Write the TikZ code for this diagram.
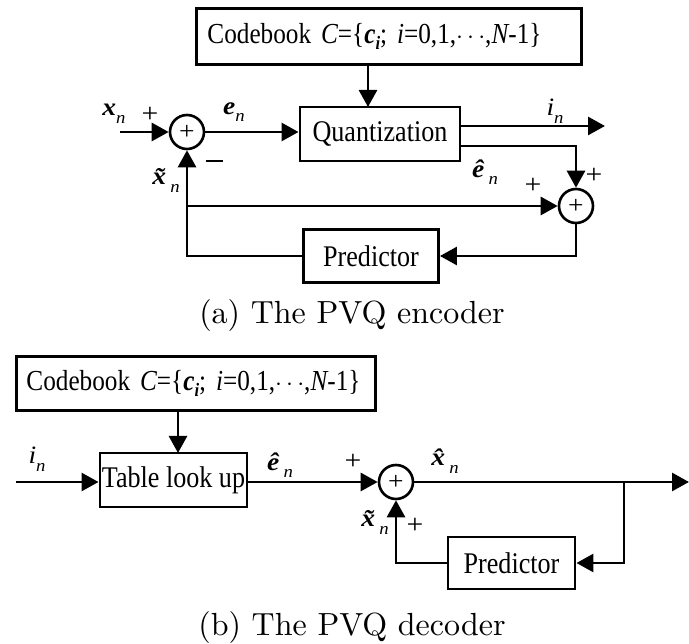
\documentclass[tikz,border=0pt]{standalone}
\usepackage{fontspec}
\newfontfamily\tnr{Liberation Serif}[FakeStretch=0.87]
\newfontfamily\lbf{Liberation Serif}[FakeStretch=1.1]
\newfontfamily\capfont{lmroman10-regular.otf}
\usetikzlibrary{arrows.meta}
% font size helper and label macros
\newcommand\fsz[1]{\fontsize{#1}{#1}\selectfont}
\newcommand\bv[1]{{\bfseries\itshape #1}}
\newcommand\lsubn[1]{\raisebox{-0.3em}{\fsz{17}\itshape #1}}
\newcommand\codebook{\fsz{29}Codebook {\itshape C}=\{\bv{c}\raisebox{-0.2em}{\fsz{19}\bfseries\itshape i}; {\itshape i}=0,1,$\cdots$,{\itshape N}-1\}}
\begin{document}
\begin{tikzpicture}[x=1pt,y=-1pt,
  blk/.style={draw,line width=2.9pt,inner sep=0pt,font=\tnr\fsz{30}},
  sumnode/.style={circle,draw,line width=2.6pt,minimum size=34pt,inner sep=0pt,font=\lbf\fsz{25}},
  wire/.style={line width=2.8pt},
  arr/.style={wire,-{Triangle[length=17pt,width=18pt]}},
  lbl/.style={font=\lbf\fsz{25},inner sep=0pt},
  sgn/.style={font=\lbf\fsz{27},inner sep=0pt},
  captext/.style={font=\capfont\fsz{32},inner sep=0pt}]
\useasboundingbox (0,0) rectangle (689,644);

% ---------------- encoder ----------------
\node[blk,anchor=north west,minimum width=385pt,minimum height=56pt,
      text width=363pt,inner xsep=11pt,align=left] (cb1) at (195,7) {\codebook};
\node[blk,minimum width=160pt,minimum height=54pt] (q) at (380,134) {Quantization};
\node[sumnode] (s1) at (187,132) {+};
\node[sumnode] (s2) at (576,206) {+};
\node[blk,minimum width=135pt,minimum height=53pt] (p1) at (371,256) {Predictor};

\coordinate (xin) at (120,132);
\coordinate (qin) at (368,107);
\coordinate (iout) at (605,126);
\coordinate (qe) at (460,146);

\draw[arr] (xin) -- (s1);
\draw[arr] (s1.east) -- (s1.east -| q.west);
\draw[arr] (cb1.south -| qin) -- (qin);
\draw[arr] (q.east |- iout) -- (iout);
\draw[arr] (qe) -| (s2.north);
\draw[arr] (p1.west) -- (p1.west -| s1.south) -- (s1.south);
\draw[arr] (s1.south |- s2.west) -- (s2.west);
\draw[arr] (s2.south) |- (p1.east);

\node[lbl] (lx1) at (114,114) {\bv{x}\lsubn{n}};
\node[sgn] (pl1) at (150,115) {+};
\node[lbl] (le1) at (234,112) {\bv{e}\lsubn{n}};
\node[sgn] (mi1) at (214,165) {\rule[0.3em]{17pt}{1.4pt}};
\node[lbl] (lxt1) at (166,180) {\bv{\~{x}}\,\lsubn{n}};
\node[lbl] (li1) at (555,111) {\itshape i\lsubn{n}};
\node[lbl] (leh1) at (485,172) {\bv{\^{e}}\,\lsubn{n}};
\node[sgn] (pl2) at (594,176) {+};
\node[sgn] (pl3) at (533,186) {+};
\node[captext] (capa) at (352,316) {(a) The PVQ encoder};

% ---------------- decoder ----------------
\node[blk,anchor=north west,minimum width=359pt,minimum height=54pt,
      text width=339pt,inner xsep=10pt,align=left] (cb2) at (15,355) {\codebook};
\node[blk,minimum width=147pt,minimum height=54pt] (tbl) at (173.5,480) {Table look up};
\node[sumnode] (s3) at (396,482) {+};
\node[blk,minimum width=127pt,minimum height=52pt] (p2) at (511.5,563) {Predictor};

\coordinate (iin) at (16,482);
\coordinate (tin) at (178,453);
\coordinate (xout) at (689,482);
\coordinate (br) at (624,482);

\draw[arr] (cb2.south -| tin) -- (tin);
\draw[arr] (iin) -- (iin -| tbl.west);
\draw[arr] (tbl.east |- s3.west) -- (s3.west);
\draw[arr] (s3.east) -- (xout);
\draw[arr] (br) |- (p2.east);
\draw[arr] (p2.west) -- (p2.west -| s3.south) -- (s3.south);

\node[lbl] (li2) at (37,459) {\itshape i\lsubn{n}};
\node[lbl] (leh2) at (280,465) {\bv{\^{e}}\,\lsubn{n}};
\node[sgn] (pl4) at (353,462) {+};
\node[lbl] (lxh2) at (445,461) {\bv{\^{x}}\,\lsubn{n}};
\node[lbl] (lxt2) at (375,522) {\bv{\~{x}}\,\lsubn{n}};
\node[sgn] (pl5) at (415,526) {+};
\node[captext] (capb) at (352,627) {(b) The PVQ decoder};
\end{tikzpicture}
\end{document}
